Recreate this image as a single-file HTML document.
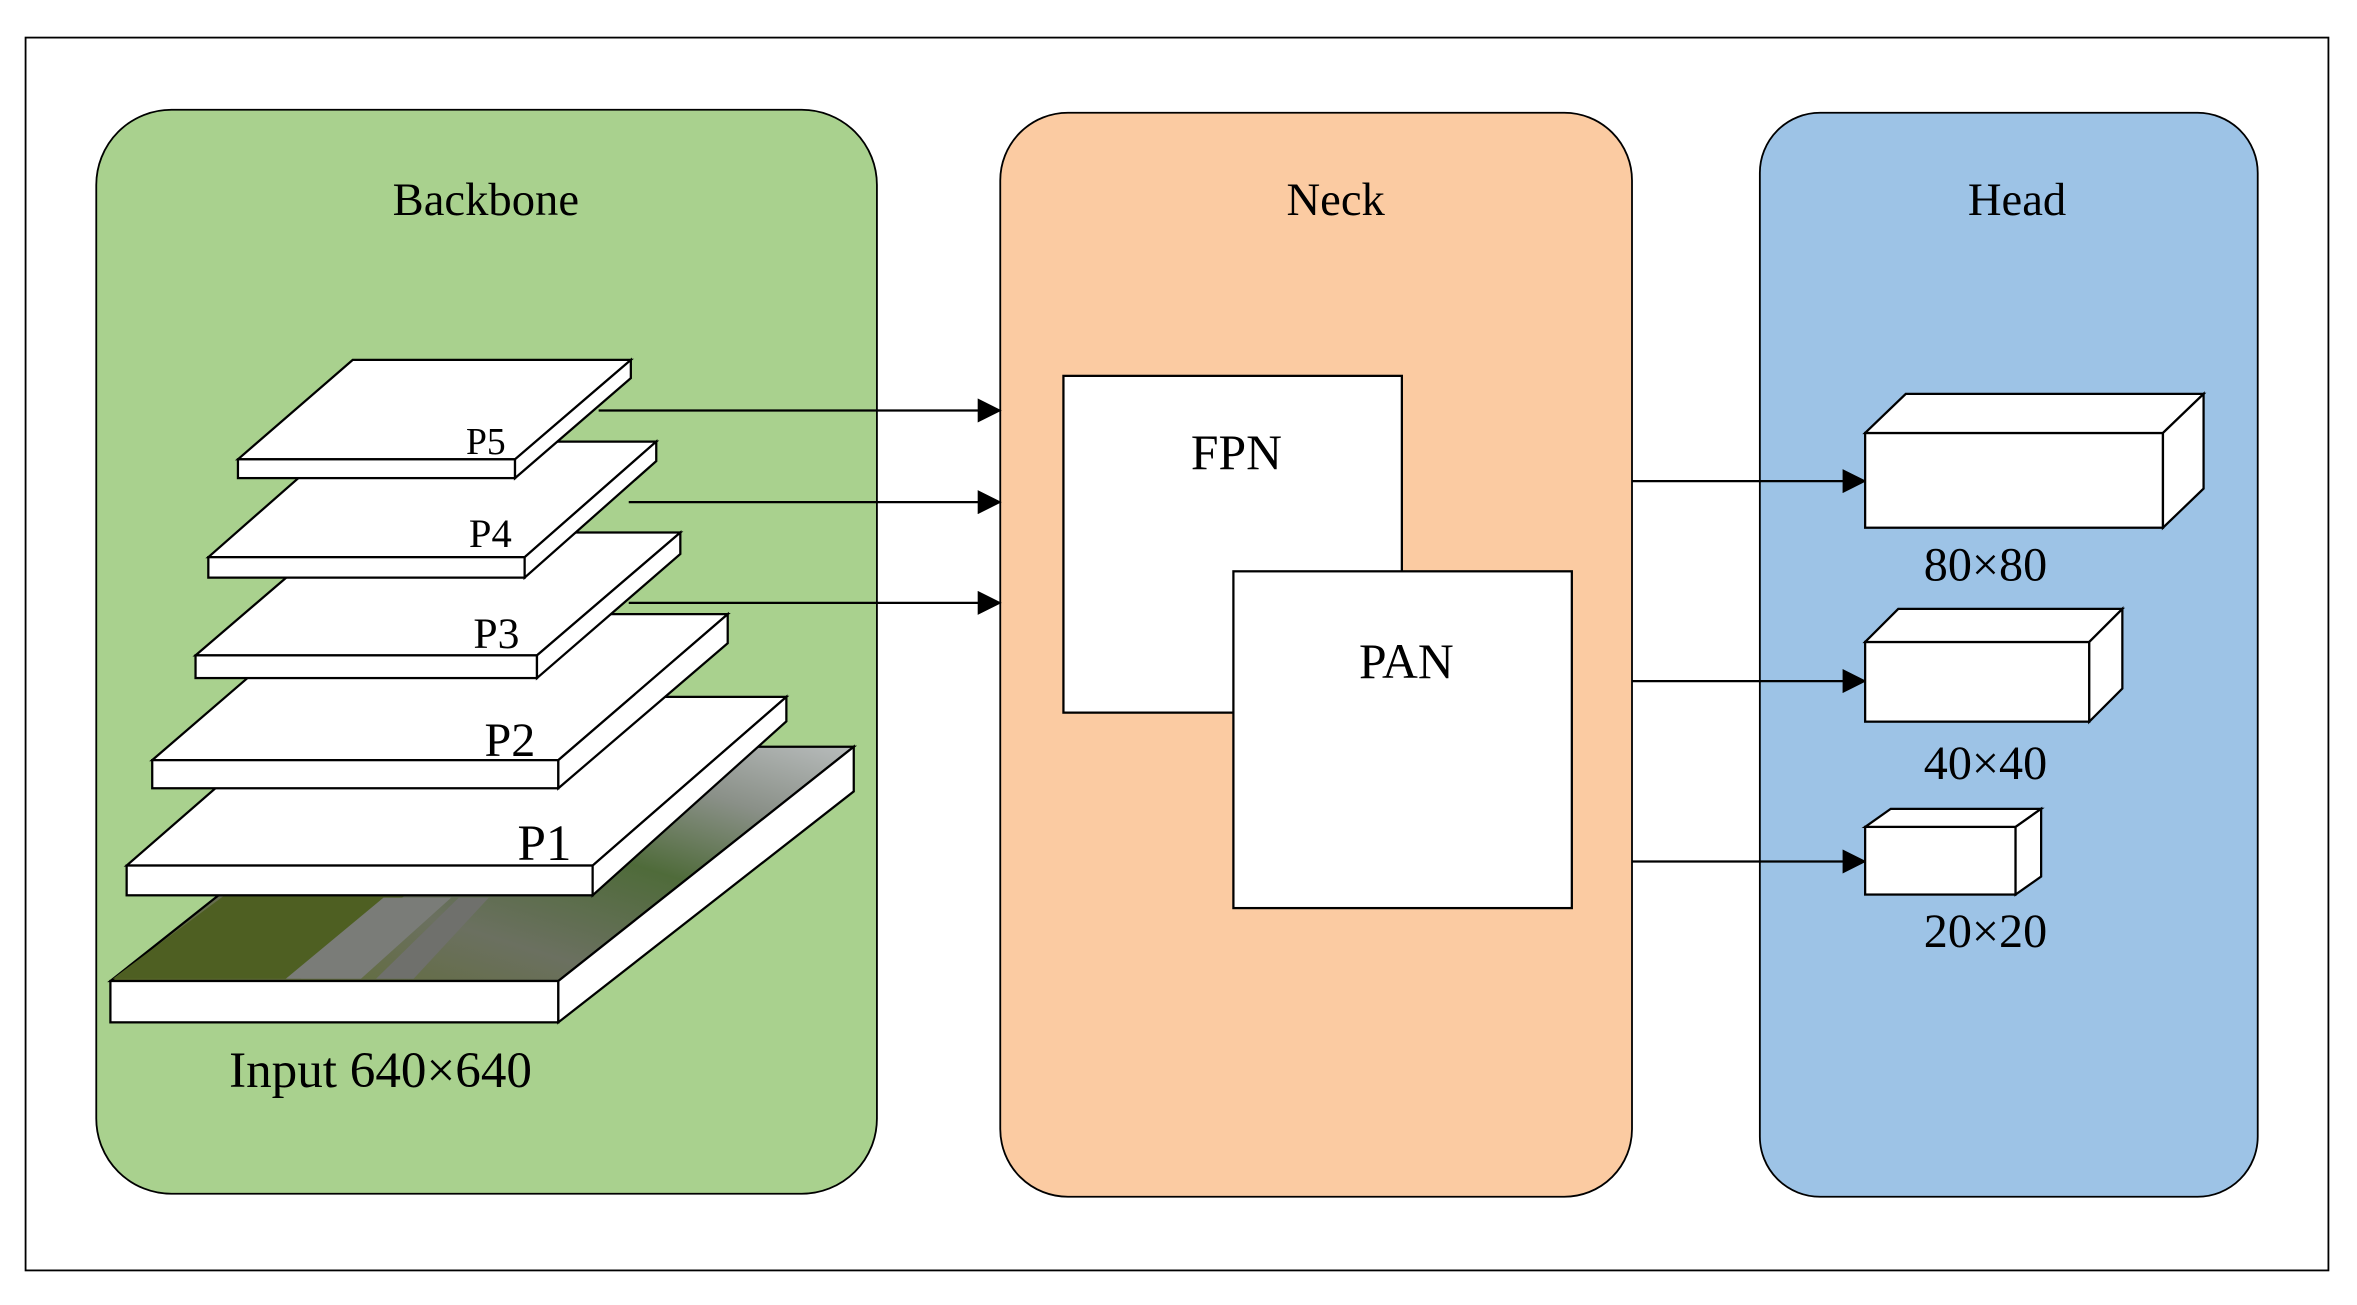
<!DOCTYPE html>
<html><head><meta charset="utf-8"><style>html,body{margin:0;padding:0;background:#fff}svg{display:block}</style></head><body>
<svg xmlns="http://www.w3.org/2000/svg" width="2357" height="1305" viewBox="0 0 1567 868" preserveAspectRatio="none" font-family="'Liberation Serif', serif">
<defs>
<marker id="ah" markerWidth="16" markerHeight="16" refX="15" refY="8" orient="auto" markerUnits="userSpaceOnUse"><path d="M0,0 L16,8 L0,16 z" fill="#000"/></marker>
<linearGradient id="img" x1="0" y1="1" x2="1" y2="0">
<stop offset="0" stop-color="#5d6b2a"/><stop offset="0.35" stop-color="#6b7060"/><stop offset="0.6" stop-color="#4f6b3a"/><stop offset="0.8" stop-color="#8a9088"/><stop offset="1" stop-color="#b8bcbc"/></linearGradient>
</defs>
<rect x="0" y="0" width="1567" height="868" fill="#fff"/>
<rect x="17" y="25" width="1531" height="820" fill="#fff" stroke="#000" stroke-width="1.2"/>
<rect x="64" y="73" width="519" height="721" rx="50" fill="#a9d18e" stroke="#000" stroke-width="1.2"/>
<rect x="665" y="75" width="420" height="721" rx="45" fill="#fbcba2" stroke="#000" stroke-width="1.2"/>
<rect x="1170" y="75" width="331" height="721" rx="40" fill="#9dc3e6" stroke="#000" stroke-width="1.2"/>
<g font-size="31" text-anchor="middle">
<text x="323" y="143">Backbone</text><text x="888" y="143">Neck</text><text x="1341" y="143">Head</text>
</g>
<g stroke="#000" stroke-width="1.5" stroke-linejoin="miter">
<!-- Input -->
<polygon points="73.4,652.5 269.8,496.7 567.6,496.7 371.2,652.5" fill="url(#img)"/>
<polygon points="75,651 150,595 270,595 200,651" fill="#4e5f22" stroke="none"/>
<polygon points="190,651 255,597 300,597 240,651" fill="#7a7c78" stroke="none"/>
<polygon points="250,651 305,597 325,597 275,651" fill="#6f706c" stroke="none"/>
<rect x="73.4" y="652.5" width="297.8" height="27.5" fill="#fff"/>
<polygon points="371.2,652.5 567.6,496.7 567.6,526.4 371.2,680" fill="#fff"/>
<!-- P1 -->
<polygon points="84.2,575.7 213,463.5 522.8,463.5 394,575.7" fill="#fff"/>
<rect x="84.2" y="575.7" width="309.8" height="19.8" fill="#fff"/>
<polygon points="394,575.7 522.8,463.5 522.8,479.8 394,595.5" fill="#fff"/>
<!-- P2 -->
<polygon points="101.2,505.6 213.8,408.5 483.8,408.5 371.2,505.6" fill="#fff"/>
<rect x="101.2" y="505.6" width="270" height="18.7" fill="#fff"/>
<polygon points="371.2,505.6 483.8,408.5 483.8,427.8 371.2,524.3" fill="#fff"/>
<!-- P3 -->
<polygon points="130,435.9 225.3,354.2 452.3,354.2 357,435.9" fill="#fff"/>
<rect x="130" y="435.9" width="227" height="15.1" fill="#fff"/>
<polygon points="357,435.9 452.3,354.2 452.3,368.5 357,451" fill="#fff"/>
<!-- P4 -->
<polygon points="138.5,370.6 226,293.7 436.3,293.7 348.8,370.6" fill="#fff"/>
<rect x="138.5" y="370.6" width="210.3" height="13.6" fill="#fff"/>
<polygon points="348.8,370.6 436.3,293.7 436.3,306.7 348.8,384.2" fill="#fff"/>
<!-- P5 -->
<polygon points="158.2,305.5 234.5,239.4 419.4,239.4 342.4,305.5" fill="#fff"/>
<rect x="158.2" y="305.5" width="184.2" height="12.5" fill="#fff"/>
<polygon points="342.4,305.5 419.4,239.4 419.4,251.5 342.4,318" fill="#fff"/>
</g>
<g text-anchor="middle">
<text x="323" y="302" font-size="25">P5</text>
<text x="326" y="364" font-size="27">P4</text>
<text x="330" y="431" font-size="29">P3</text>
<text x="339" y="503" font-size="32">P2</text>
<text x="362" y="572" font-size="34">P1</text>
<text x="253" y="723" font-size="34">Input 640×640</text>
</g>
<g stroke="#000" stroke-width="1.5" marker-end="url(#ah)">
<line x1="398" y1="273" x2="665" y2="273"/>
<line x1="418" y1="334" x2="665" y2="334"/>
<line x1="418" y1="401" x2="665" y2="401"/>
<line x1="1085" y1="320" x2="1240" y2="320"/>
<line x1="1085" y1="453" x2="1240" y2="453"/>
<line x1="1085" y1="573" x2="1240" y2="573"/>
</g>
<g stroke="#000" stroke-width="1.5" fill="#fff">
<rect x="707" y="250" width="225" height="224"/>
<rect x="820" y="380" width="225" height="224"/>
</g>
<g font-size="33" text-anchor="middle"><text x="822" y="312">FPN</text><text x="935" y="451">PAN</text></g>
<g stroke="#000" stroke-width="1.5" fill="#fff">
<rect x="1240" y="288" width="198" height="63"/>
<polygon points="1240,288 1267,262 1465,262 1438,288"/>
<polygon points="1438,288 1465,262 1465,325 1438,351"/>
<rect x="1240" y="427" width="149" height="53"/>
<polygon points="1240,427 1262,405 1411,405 1389,427"/>
<polygon points="1389,427 1411,405 1411,458 1389,480"/>
<rect x="1240" y="550" width="100" height="45"/>
<polygon points="1240,550 1257,538 1357,538 1340,550"/>
<polygon points="1340,550 1357,538 1357,583 1340,595"/>
</g>
<g font-size="32" text-anchor="middle">
<text x="1320" y="386">80×80</text><text x="1320" y="518">40×40</text><text x="1320" y="630">20×20</text>
</g>
</svg>
</body></html>
